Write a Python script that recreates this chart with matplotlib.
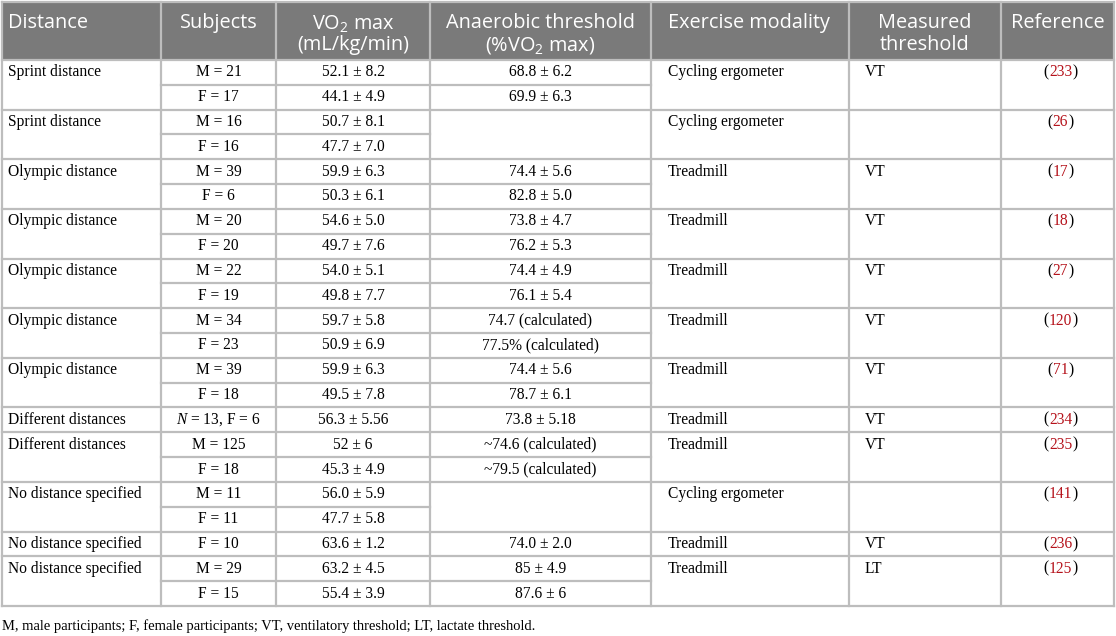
import matplotlib
matplotlib.use("Agg")
import matplotlib.pyplot as plt
from matplotlib.patches import Rectangle

plt.rcParams['mathtext.fontset'] = 'custom'
plt.rcParams['mathtext.rm'] = 'Open Sans'
plt.rcParams['mathtext.it'] = 'Liberation Serif:italic'

# Table content
headers = ["Distance", "Subjects", "VO$_2$ max\n(mL/kg/min)",
           "Anaerobic threshold\n(%VO$_2$ max)", "Exercise modality",
           "Measured\nthreshold", "Reference"]

distance = ["Sprint distance", "Sprint distance", "Olympic distance",
            "Olympic distance", "Olympic distance", "Olympic distance",
            "Olympic distance", "Different distances", "Different distances",
            "No distance specified", "No distance specified",
            "No distance specified"]
subjects = [["M = 21", "F = 17"], ["M = 16", "F = 16"], ["M = 39", "F = 6"],
            ["M = 20", "F = 20"], ["M = 22", "F = 19"], ["M = 34", "F = 23"],
            ["M = 39", "F = 18"], [r"$\mathit{N}$ = 13, F = 6"],
            ["M = 125", "F = 18"], ["M = 11", "F = 11"], ["F = 10"],
            ["M = 29", "F = 15"]]
vo2max = [["52.1 ± 8.2", "44.1 ± 4.9"], ["50.7 ± 8.1", "47.7 ± 7.0"],
          ["59.9 ± 6.3", "50.3 ± 6.1"], ["54.6 ± 5.0", "49.7 ± 7.6"],
          ["54.0 ± 5.1", "49.8 ± 7.7"], ["59.7 ± 5.8", "50.9 ± 6.9"],
          ["59.9 ± 6.3", "49.5 ± 7.8"], ["56.3 ± 5.56"],
          ["52 ± 6", "45.3 ± 4.9"], ["56.0 ± 5.9", "47.7 ± 5.8"],
          ["63.6 ± 1.2"], ["63.2 ± 4.5", "55.4 ± 3.9"]]
threshold = [["68.8 ± 6.2", "69.9 ± 6.3"], ["", ""],
             ["74.4 ± 5.6", "82.8 ± 5.0"], ["73.8 ± 4.7", "76.2 ± 5.3"],
             ["74.4 ± 4.9", "76.1 ± 5.4"],
             ["74.7 (calculated)", "77.5% (calculated)"],
             ["74.4 ± 5.6", "78.7 ± 6.1"], ["73.8 ± 5.18"],
             ["~74.6 (calculated)", "~79.5 (calculated)"], ["", ""],
             ["74.0 ± 2.0"], ["85 ± 4.9", "87.6 ± 6"]]
modality = ["Cycling ergometer", "Cycling ergometer", "Treadmill", "Treadmill",
            "Treadmill", "Treadmill", "Treadmill", "Treadmill", "Treadmill",
            "Cycling ergometer", "Treadmill", "Treadmill"]
measured = ["VT", "", "VT", "VT", "VT", "VT", "VT", "VT", "VT", "", "VT", "LT"]
refs = ["233", "26", "17", "18", "27", "120", "71", "234", "235", "141",
        "236", "125"]
footnote = ("M, male participants; F, female participants; VT, ventilatory "
            "threshold; LT, lactate threshold.")

# Layout (pixels)
W, H = 1116, 636
col_x = [2, 161, 276, 430, 651, 849, 1001, 1114]
top, head_bot, bottom = 2, 60, 606
n_rows = sum(len(s) for s in subjects)
row_h = (bottom - head_bot) / n_rows
line_c = "#bdbdbd"
head_bg = "#7a7a7a"
serif = "Liberation Serif"
sans = "Open Sans"
body_fs = 11.2
head_fs = 14.3

fig = plt.figure(figsize=(W / 100, H / 100), dpi=100)
ax = fig.add_axes([0, 0, 1, 1])
ax.set_xlim(0, W)
ax.set_ylim(H, 0)
ax.axis("off")

ax.add_patch(Rectangle((col_x[0], top), col_x[-1] - col_x[0], head_bot - top,
                       facecolor=head_bg, edgecolor="none"))

# header text
for j, h in enumerate(headers):
    lines = h.split("\n")
    for k, ln in enumerate(lines):
        y = 23 + k * 22
        if j in (0, 4):
            x = col_x[j] + (6 if j == 0 else 17)
            ha = "left"
        else:
            x = (col_x[j] + col_x[j + 1]) / 2
            ha = "center"
        ax.text(x, y, ln, ha=ha, va="center", color="white",
                family=sans, fontsize=head_fs)

renderer = fig.canvas.get_renderer()
inv = ax.transData.inverted()


def body(x, y, s, ha, **kw):
    return ax.text(x, y, s, ha=ha, va="center", family=serif,
                   fontsize=kw.pop("fontsize", body_fs),
                   color=kw.pop("color", "black"), **kw)


r = 0
lw = 1.6
ax.plot([col_x[0], col_x[-1]], [head_bot, head_bot], color=line_c, lw=lw)
for g in range(len(distance)):
    n = len(subjects[g])
    y0 = head_bot + r * row_h
    yc = y0 + row_h / 2
    body(col_x[0] + 6, yc, distance[g], "left")
    body(col_x[4] + 17, yc, modality[g], "left")
    body(col_x[5] + 16, yc, measured[g], "left")
    # reference: red number in black parentheses
    cx = (col_x[6] + col_x[7]) / 2 + 3
    t = body(cx, yc, refs[g], "center", color="#b5121b")
    bb = t.get_window_extent(renderer)
    x_left = inv.transform((bb.x0, 0))[0]
    x_right = inv.transform((bb.x1, 0))[0]
    body(x_left, yc, "(", "right")
    body(x_right, yc, ")", "left")
    for k in range(n):
        yk = y0 + (k + 0.5) * row_h
        body((col_x[1] + col_x[2]) / 2, yk, subjects[g][k], "center")
        body((col_x[2] + col_x[3]) / 2, yk, vo2max[g][k], "center")
        body((col_x[3] + col_x[4]) / 2, yk, threshold[g][k], "center")
        if k > 0:
            ys = y0 + k * row_h
            x_end = col_x[4] if any(threshold[g]) else col_x[3]
            ax.plot([col_x[1], x_end], [ys, ys], color=line_c, lw=lw)
    r += n
    yb = head_bot + r * row_h
    ax.plot([col_x[0], col_x[-1]], [yb, yb], color=line_c, lw=lw)

# vertical lines and top border
for x in col_x:
    ax.plot([x, x], [top, bottom], color=line_c, lw=lw)
ax.plot([col_x[0], col_x[-1]], [top, top], color=line_c, lw=lw)

body(2, 626, footnote, "left", fontsize=10.45)

fig.savefig("out.png", dpi=100)
